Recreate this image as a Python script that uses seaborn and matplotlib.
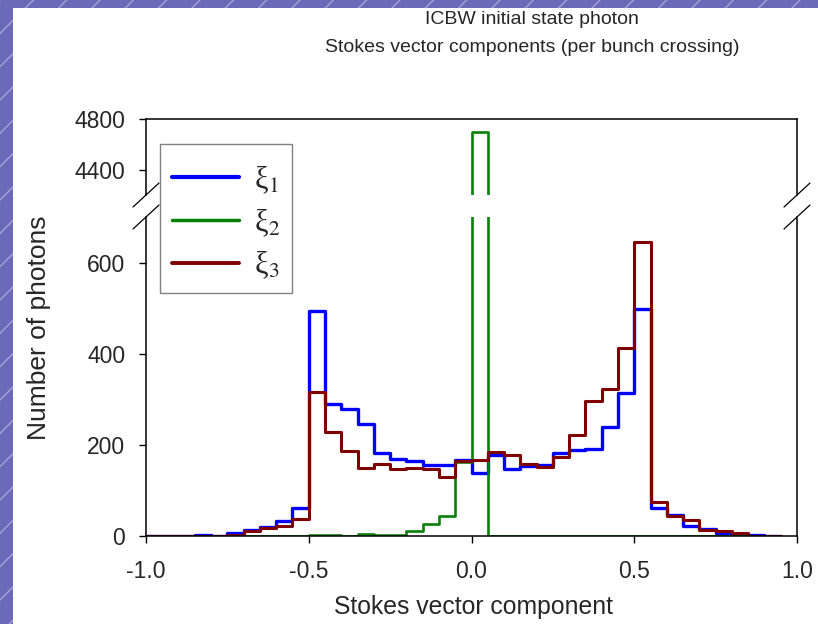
import numpy as np
import pandas as pd
import matplotlib
matplotlib.use('Agg')
import matplotlib.pyplot as plt
from matplotlib.lines import Line2D
from matplotlib.patches import Rectangle
import seaborn as sns

# bin edges of the histograms (width 0.05)
edges = np.round(np.arange(-1.0, 0.951, 0.05), 2)
centers = (edges[:-1] + edges[1:]) / 2

# counts per bin (bins starting at -1.00)
xi1 = [0, 0, 1, 2, 1, 7, 13, 20, 34, 62,
       494, 289, 279, 245, 182, 170, 164, 155, 155, 166,
       138, 178, 148, 154, 156, 182, 189, 190, 239, 314,
       498, 62, 46, 23, 15, 7, 4, 2, 1]
xi2 = [np.nan, np.nan, np.nan, np.nan, np.nan, 1, 1, 1, 1, 1,
       2, 2, 1, 4, 2, 2, 11, 26, 43, 163,
       4700, 1, 1, 1, 1, 1, 1, 1, 1, 1,
       1, 1, 1, 1, 1, 1, 1, np.nan, np.nan]
xi3 = [0, 0, 0, 1, 1, 3, 12, 18, 21, 37,
       317, 228, 186, 150, 158, 147, 150, 148, 130, 165,
       167, 185, 177, 158, 151, 174, 222, 297, 323, 412,
       645, 75, 44, 35, 13, 10, 6, 1, 1]

labels = ['ξ$_1$', 'ξ$_2$', 'ξ$_3$']
colors = ['#0000ff', '#078007', '#800000']
widths = [2.4, 1.9, 2.2]
series = [xi1, xi2, xi3]

sns.set_style('ticks')
plt.rcParams['font.family'] = ['Liberation Sans', 'DejaVu Sans']
plt.rcParams['mathtext.fontset'] = 'stix'

fig, (ax_top, ax_bot) = plt.subplots(2, 1, sharex=True, figsize=(8.18, 6.24), dpi=100)
fig.patch.set_facecolor('white')

L, R = 146 / 818, 797 / 818
ax_top.set_position([L, 1 - 195 / 624, R - L, 76 / 624])
ax_bot.set_position([L, 1 - 536 / 624, R - L, 319 / 624])


def draw(ax, counts, color, lw):
    counts = np.asarray(counts, dtype=float)
    ok = np.flatnonzero(~np.isnan(counts))
    lo, hi = ok[0], ok[-1]
    df = pd.DataFrame({'x': centers[lo:hi + 1], 'w': counts[lo:hi + 1]})
    sns.histplot(data=df, x='x', weights='w',
                 bins=list(edges[lo:hi + 2]), element='step', fill=False,
                 color=color, linewidth=lw, ax=ax)


for ax in (ax_top, ax_bot):
    for s, c, w in zip(series, colors, widths):
        draw(ax, s, c, w)
    ax.set_xlim(-1.0, 1.0)
    ax.set_xlabel('')
    ax.set_ylabel('')
    ax.tick_params(axis='y', labelsize=16.5, length=5, width=1, pad=10, color='black')
    ax.tick_params(axis='x', labelsize=16.5, length=5, width=1, pad=12, color='black')
    for sp in ax.spines.values():
        sp.set_color('black')
        sp.set_linewidth(1.1)

ax_top.set_ylim(4200, 4800)
ax_top.set_yticks([4400, 4800])
ax_top.spines['bottom'].set_visible(False)
ax_top.tick_params(axis='x', bottom=False, labelbottom=False)

ax_bot.set_ylim(0, 700)
ax_bot.set_yticks([0, 200, 400, 600])
ax_bot.set_xticks([-1.0, -0.5, 0.0, 0.5, 1.0])
ax_bot.set_xticklabels(['-1.0', '-0.5', '0.0', '0.5', '1.0'])
ax_bot.spines['top'].set_visible(False)

# break marks on both sides
dx, dy = 13 / 818, 12 / 624
for xs in (L, R):
    for ys in (1 - 195 / 624, 1 - 217 / 624):
        fig.add_artist(Line2D([xs - dx, xs + dx], [ys - dy, ys + dy],
                              transform=fig.transFigure, color='black', lw=0.9))

# legend spanning both panels, frame drawn separately
fig.add_artist(Rectangle((160 / 818, 1 - 293 / 624), 132 / 818, 149 / 624,
                         transform=fig.transFigure, facecolor='white',
                         edgecolor='#808080', linewidth=1.0, zorder=4))
handles = [Line2D([], [], color=c, lw=w + 0.6) for c, w in zip(colors, widths)]
leg = fig.legend(handles, labels, loc='upper left',
                 bbox_to_anchor=(172 / 818, 1 - 164 / 624),
                 frameon=False, prop={'family': 'Liberation Serif', 'size': 22},
                 borderaxespad=0, borderpad=0,
                 handlelength=2.2, labelspacing=0.37, handletextpad=0.5)
leg.set_zorder(5)

fig.text(532 / 818, 1 - 20 / 624, 'ICBW initial state photon',
         ha='center', va='center', fontsize=14)
fig.text(532 / 818, 1 - 47 / 624, 'Stokes vector components (per bunch crossing)',
         ha='center', va='center', fontsize=14)
fig.text(473 / 818, 1 - 607 / 624, 'Stokes vector component',
         ha='center', va='center', fontsize=17.8)
fig.text(39 / 818, 1 - 328 / 624, 'Number of photons',
         ha='center', va='center', rotation=90, fontsize=19)

# slide border
fig.patches.append(Rectangle((0, 0), 13 / 818, 1, transform=fig.transFigure,
                             facecolor='#6a6ab8', edgecolor='#a4a4d8', hatch='/',
                             linewidth=0, zorder=-1))
fig.patches.append(Rectangle((0, 1 - 8 / 624), 1, 8 / 624, transform=fig.transFigure,
                             facecolor='#6a6ab8', edgecolor='#a4a4d8', hatch='/',
                             linewidth=0, zorder=-1))

fig.savefig('out.png', dpi=100)
